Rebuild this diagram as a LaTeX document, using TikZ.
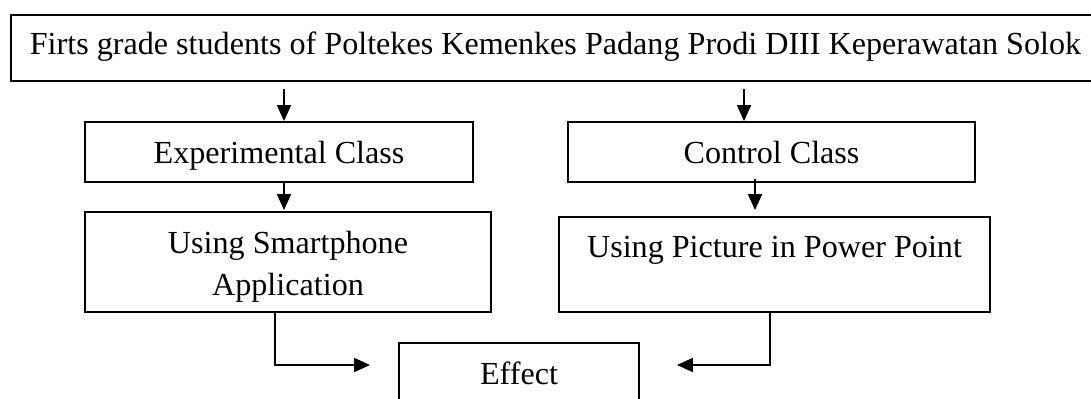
\documentclass[tikz,border=0pt]{standalone}
\usepackage{fontspec}
\setmainfont{Liberation Serif}
\usetikzlibrary{arrows.meta,calc}
\begin{document}
\begin{tikzpicture}[x=0.75pt,y=-0.75pt,
  box/.style={draw, line width=1.4pt, inner sep=0pt, font=\fontsize{24.1}{31.5}\selectfont,
    text height=16.5pt, text depth=0pt, align=center},
  arr/.style={line width=1.4pt, -{Triangle[length=12pt,width=10.5pt]}}]
\useasboundingbox (0,0) rectangle (1091,399);
\node[box, minimum width=816.75pt, minimum height=49.5pt, text height=10.5pt] (top) at (555.5,48)
  {Firts grade students of Poltekes Kemenkes Padang Prodi DIII Keperawatan Solok};
\node[box, minimum width=291pt, minimum height=45pt] (exp) at (279,152) {Experimental Class};
\node[box, minimum width=305.25pt, minimum height=45pt] (ctrl) at (771.5,152) {Control Class};
\node[box, minimum width=304.5pt, minimum height=75pt, text height=49.5pt] (smart) at (288,262)
  {Using Smartphone\\Application};
\node[box, minimum width=323.25pt, minimum height=71.25pt, text height=51.75pt] (pic) at (774.5,264.5)
  {Using Picture in Power Point\\\mbox{}};
\node[box, minimum width=180pt, minimum height=45pt] (eff) at (519,373) {Effect};
\coordinate (a1) at ($(exp.north)+(5,0)$);
\coordinate (a2) at ($(ctrl.north)+(-27.5,0)$);
\coordinate (a3) at ($(exp.south)+(5,0)$);
\coordinate (a4) at ($(ctrl.south)+(-16.5,-4)$);
\coordinate (s1) at ($(smart.south)+(-13,0)$);
\coordinate (e1) at ($(eff.west)+(-28,-8)$);
\coordinate (s2) at ($(pic.south)+(-4.5,0)$);
\coordinate (e2) at ($(eff.east)+(37,-8)$);
\draw[arr, shorten <=5.25pt] (top.south -| a1) -- (a1);
\draw[arr, shorten <=5.25pt] (top.south -| a2) -- (a2);
\draw[arr, shorten >=0.75pt] (a3) -- (smart.north -| a3);
\draw[arr, shorten >=4.5pt] (a4) -- (pic.north -| a4);
\draw[arr] (s1) |- (e1);
\draw[arr] (s2) |- (e2);
\end{tikzpicture}
\end{document}
